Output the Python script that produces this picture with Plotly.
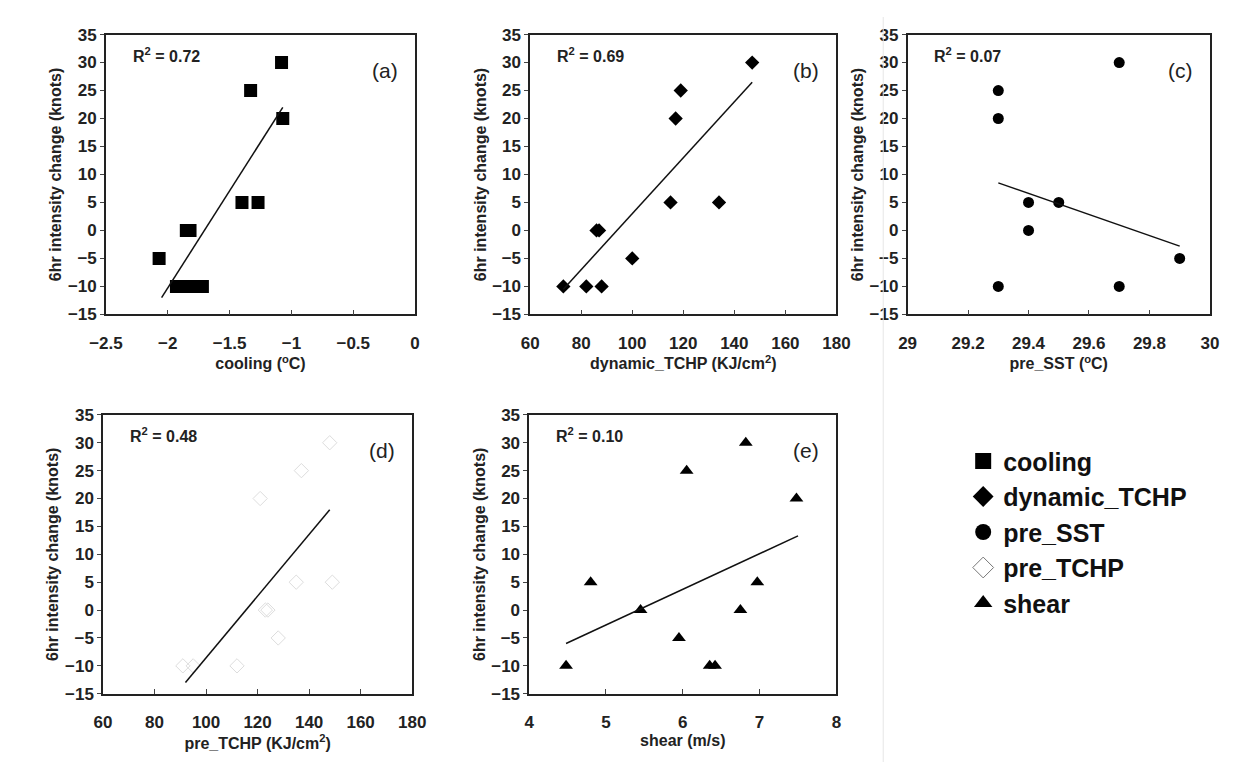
import plotly.graph_objects as go

y_vals_a = [30, 25, 20, 5, 5, 0, 0, -5, -10, -10, -10, -10]
cooling = [-1.08, -1.33, -1.07, -1.40, -1.27, -1.85, -1.82, -2.07, -1.93, -1.85, -1.78, -1.72]
fit_a_x = [-2.05, -1.07]; fit_a_y = [-12, 22]

y_vals_b = [30, 25, 20, 5, 5, 0, 0, -5, -10, -10, -10]
dyn_tchp = [147, 119, 117, 115, 134, 86, 87, 100, 73, 82, 88]
fit_b_x = [73, 147]; fit_b_y = [-10.5, 26.5]

y_vals_c = [30, 25, 20, 5, 5, 0, -5, -10, -10]
pre_sst = [29.7, 29.3, 29.3, 29.4, 29.5, 29.4, 29.9, 29.3, 29.7]
fit_c_x = [29.3, 29.9]; fit_c_y = [8.5, -2.8]

y_vals_d = [30, 25, 20, 5, 5, 0, 0, -5, -10, -10, -10]
pre_tchp = [148, 137, 121, 135, 149, 124, 123, 128, 91, 95, 112]
fit_d_x = [92, 148]; fit_d_y = [-13, 18]

y_vals_e = [30, 25, 20, 5, 5, 0, 0, -5, -10, -10, -10]
shear = [6.82, 6.05, 7.48, 4.8, 6.97, 5.45, 6.75, 5.95, 4.48, 6.35, 6.42]
fit_e_x = [4.48, 7.5]; fit_e_y = [-6, 13.3]

r2 = ["R<sup>2</sup> = 0.72", "R<sup>2</sup> = 0.69", "R<sup>2</sup> = 0.07", "R<sup>2</sup> = 0.48", "R<sup>2</sup> = 0.10"]
labels = ["(a)", "(b)", "(c)", "(d)", "(e)"]
xtitles = ["cooling (<sup>o</sup>C)", "dynamic_TCHP (KJ/cm<sup>2</sup>)", "pre_SST (<sup>o</sup>C)",
           "pre_TCHP (KJ/cm<sup>2</sup>)", "shear (m/s)"]
xranges = [[-2.5, 0], [60, 180], [29, 30], [60, 180], [4, 8]]
xdtick = [0.5, 20, 0.2, 20, 1]

W, H = 1252, 764
boxes = [(83, 400, 18, 305), (518, 832, 18, 305), (905, 1215, 18, 305),
         (80, 397, 408, 694), (517, 832, 408, 694)]

fig = go.Figure()
panels = [
    (cooling, y_vals_a, fit_a_x, fit_a_y, "cooling", dict(symbol="square", size=13, color="black")),
    (dyn_tchp, y_vals_b, fit_b_x, fit_b_y, "dynamic_TCHP", dict(symbol="diamond", size=11, color="black")),
    (pre_sst, y_vals_c, fit_c_x, fit_c_y, "pre_SST", dict(symbol="circle", size=11, color="black")),
    (pre_tchp, y_vals_d, fit_d_x, fit_d_y, "pre_TCHP", dict(symbol="diamond-open", size=11, color="#dddddd")),
    (shear, y_vals_e, fit_e_x, fit_e_y, "shear", dict(symbol="triangle-up", size=12, color="black")),
]
font = dict(family="Arial, Liberation Sans", size=17, color="#222", weight=600)
tfont = dict(family="Arial, Liberation Sans", size=16, color="#222", weight=600)
for i, (xs, ys, fx, fy, name, mk) in enumerate(panels):
    n = "" if i == 0 else str(i + 1)
    fig.add_trace(go.Scatter(x=xs, y=ys, mode="markers", marker=mk, showlegend=False,
                             xaxis="x" + n, yaxis="y" + n))
    fig.add_trace(go.Scatter(x=fx, y=fy, mode="lines", line=dict(color="#111", width=1.5),
                             showlegend=False, xaxis="x" + n, yaxis="y" + n))
    l, r, t, b = boxes[i]
    fig.layout["xaxis" + n] = dict(domain=[l / W, r / W], range=xranges[i], dtick=xdtick[i],
                                   anchor="y" + n, showline=True, mirror=True, linecolor="#222",
                                   linewidth=1.5, ticks="inside", ticklen=5, showgrid=False,
                                   zeroline=False, tickfont=font, ticklabelstandoff=12,
                                   title=dict(text=xtitles[i], font=tfont, standoff=2))
    fig.layout["yaxis" + n] = dict(domain=[1 - b / H, 1 - t / H], range=[-15, 35], dtick=5,
                                   anchor="x" + n, showline=True, mirror=True, linecolor="#222",
                                   linewidth=1.5, ticks="outside", ticklen=4, showgrid=False,
                                   zeroline=False, tickfont=font,
                                   title=dict(text="6hr intensity change (knots)", font=tfont, standoff=2))
    fig.add_annotation(xref="x" + n + " domain", yref="y" + n + " domain", x=0.08, y=0.97,
                       xanchor="left", yanchor="top", text=r2[i], showarrow=False, font=tfont)
    fig.add_annotation(xref="x" + n + " domain", yref="y" + n + " domain", x=0.95, y=0.92,
                       xanchor="right", yanchor="top", text=labels[i], showarrow=False,
                       font=dict(family="Arial, Liberation Sans", size=21, color="#222"))

for name, mk in [(p[4], p[5]) for p in panels]:
    m = dict(mk)
    if name == "pre_TCHP":
        m["color"] = "#777"
    m["size"] = 16
    fig.add_trace(go.Scatter(x=[None], y=[None], mode="markers", marker=m, name=name,
                             xaxis="x", yaxis="y"))

fig.add_shape(type="line", xref="paper", yref="paper", x0=880 / W, x1=880 / W, y0=0, y1=1,
              line=dict(color="#e6e6e6", width=1))

fig.update_layout(width=W, height=H, margin=dict(l=0, r=0, t=0, b=0),
                  paper_bgcolor="white", plot_bgcolor="white",
                  legend=dict(x=962 / W, y=1 - 432 / H, xanchor="left", yanchor="top",
                              font=dict(family="Arial, Liberation Sans", size=25, color="#111", weight="bold"),
                              itemwidth=30, tracegroupgap=4, bgcolor="rgba(0,0,0,0)"))
fig.write_html("out.html")
